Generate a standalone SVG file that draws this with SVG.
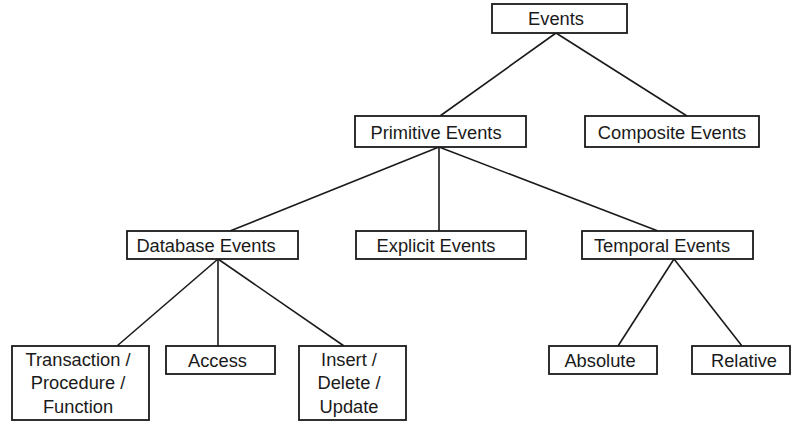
<svg xmlns="http://www.w3.org/2000/svg" width="791" height="421" viewBox="0 0 791 421">
<style>
rect{fill:#fff;stroke:#1a1a1a;stroke-width:1.8}
line{stroke:#1a1a1a;stroke-width:1.6}
text{font-family:"Liberation Sans",Arial,sans-serif;font-size:18.3px;fill:#1a1a1a;text-anchor:middle}
</style>
<rect width="791" height="421" fill="#fff" style="stroke:none"/>
<g id="connectors">
<line x1="556" y1="33" x2="440" y2="116"/>
<line x1="556" y1="33" x2="687" y2="116"/>
<line x1="439" y1="147" x2="230" y2="231"/>
<line x1="439" y1="147" x2="439" y2="231"/>
<line x1="439" y1="147" x2="658" y2="231"/>
<line x1="218" y1="259" x2="117" y2="346"/>
<line x1="218" y1="259" x2="218" y2="346"/>
<line x1="218" y1="259" x2="344" y2="346"/>
<line x1="674" y1="259" x2="618" y2="346"/>
<line x1="674" y1="259" x2="742" y2="346"/>
</g>
<g id="events"><rect x="492" y="4" width="135" height="29"/><text x="556" y="25">Events</text></g>
<g id="primitive"><rect x="355" y="116" width="171" height="31"/><text x="436" y="138.5">Primitive Events</text></g>
<g id="composite"><rect x="585" y="116" width="174" height="31"/><text x="672" y="138.5">Composite Events</text></g>
<g id="database"><rect x="127" y="231" width="171" height="28"/><text x="206" y="252">Database Events</text></g>
<g id="explicit"><rect x="356" y="231" width="170" height="28"/><text x="436" y="252">Explicit Events</text></g>
<g id="temporal"><rect x="582" y="231" width="171" height="28"/><text x="662" y="252">Temporal Events</text></g>
<g id="transaction"><rect x="12" y="346" width="137" height="74"/><text x="78" y="366">Transaction /</text><text x="78" y="389">Procedure /</text><text x="78" y="412.5">Function</text></g>
<g id="access"><rect x="166" y="346" width="109" height="28"/><text x="217.5" y="367">Access</text></g>
<g id="insert"><rect x="299" y="346" width="107" height="74"/><text x="349" y="366">Insert /</text><text x="349" y="389">Delete /</text><text x="349" y="412.5">Update</text></g>
<g id="absolute"><rect x="549" y="346" width="108" height="28"/><text x="600" y="367">Absolute</text></g>
<g id="relative"><rect x="692" y="346" width="98" height="28"/><text x="744" y="367">Relative</text></g>
</svg>
